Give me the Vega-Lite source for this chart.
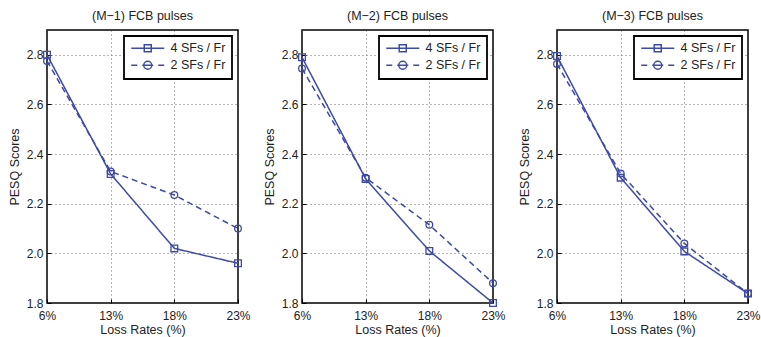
{
  "$schema": "https://vega.github.io/schema/vega-lite/v6.json",
  "padding": {"left": 7, "top": 8, "right": 0, "bottom": 4},
  "background": "white",
  "config": {
    "font": "Liberation Sans",
    "view": {"stroke": "black", "strokeWidth": 1.5},
    "title": {"fontSize": 12.5, "fontWeight": "normal", "color": "#222", "offset": 8},
    "axis": {
      "domain": false,
      "labelFontSize": 12,
      "labelColor": "#222",
      "titleFontSize": 12.5,
      "titleFontWeight": "normal",
      "titleColor": "#222",
      "tickColor": "black",
      "tickSize": -4,
      "grid": true,
      "gridDash": [1, 3],
      "gridColor": "#444",
      "gridWidth": 0.8,
      "gridOpacity": 1
    },
    "legend": {
      "orient": "top-right",
      "offset": 6,
      "padding": 6,
      "strokeColor": "black",
      "strokeWidth": 1.8,
      "fillColor": "white",
      "labelFontSize": 12.5,
      "labelColor": "#222",
      "labelOffset": 28,
      "symbolSize": 100,
      "symbolStrokeWidth": 1.5,
      "symbolStrokeColor": "#3d4aa8",
      "symbolFillColor": "transparent",
      "rowPadding": 3
    }
  },
  "datasets": {
    "d": [
      {"panel": "M-1", "rate": "6%", "series": "4 SFs / Fr", "pesq": 2.80},
      {"panel": "M-1", "rate": "13%", "series": "4 SFs / Fr", "pesq": 2.32},
      {"panel": "M-1", "rate": "18%", "series": "4 SFs / Fr", "pesq": 2.02},
      {"panel": "M-1", "rate": "23%", "series": "4 SFs / Fr", "pesq": 1.96},
      {"panel": "M-1", "rate": "6%", "series": "2 SFs / Fr", "pesq": 2.775},
      {"panel": "M-1", "rate": "13%", "series": "2 SFs / Fr", "pesq": 2.33},
      {"panel": "M-1", "rate": "18%", "series": "2 SFs / Fr", "pesq": 2.235},
      {"panel": "M-1", "rate": "23%", "series": "2 SFs / Fr", "pesq": 2.10},
      {"panel": "M-2", "rate": "6%", "series": "4 SFs / Fr", "pesq": 2.79},
      {"panel": "M-2", "rate": "13%", "series": "4 SFs / Fr", "pesq": 2.30},
      {"panel": "M-2", "rate": "18%", "series": "4 SFs / Fr", "pesq": 2.01},
      {"panel": "M-2", "rate": "23%", "series": "4 SFs / Fr", "pesq": 1.80},
      {"panel": "M-2", "rate": "6%", "series": "2 SFs / Fr", "pesq": 2.745},
      {"panel": "M-2", "rate": "13%", "series": "2 SFs / Fr", "pesq": 2.305},
      {"panel": "M-2", "rate": "18%", "series": "2 SFs / Fr", "pesq": 2.115},
      {"panel": "M-2", "rate": "23%", "series": "2 SFs / Fr", "pesq": 1.88},
      {"panel": "M-3", "rate": "6%", "series": "4 SFs / Fr", "pesq": 2.795},
      {"panel": "M-3", "rate": "13%", "series": "4 SFs / Fr", "pesq": 2.305},
      {"panel": "M-3", "rate": "18%", "series": "4 SFs / Fr", "pesq": 2.008},
      {"panel": "M-3", "rate": "23%", "series": "4 SFs / Fr", "pesq": 1.838},
      {"panel": "M-3", "rate": "6%", "series": "2 SFs / Fr", "pesq": 2.763},
      {"panel": "M-3", "rate": "13%", "series": "2 SFs / Fr", "pesq": 2.322},
      {"panel": "M-3", "rate": "18%", "series": "2 SFs / Fr", "pesq": 2.04},
      {"panel": "M-3", "rate": "23%", "series": "2 SFs / Fr", "pesq": 1.838}
    ]
  },
  "spacing": 11,
  "resolve": {"legend": {"shape": "independent"}},
  "hconcat": [
    {
      "width": 191, "height": 273,
      "title": "(M−1) FCB pulses",
      "data": {"name": "d"},
      "transform": [{"filter": "datum.panel == 'M-1'"}],
      "encoding": {
        "x": {"field": "rate", "type": "ordinal", "sort": ["6%", "13%", "18%", "23%"], "scale": {"type": "point", "padding": 0}, "axis": {"title": "Loss Rates (%)", "labelAngle": 0, "labelPadding": 11, "titlePadding": 2}},
        "y": {"field": "pesq", "type": "quantitative", "scale": {"domain": [1.8, 2.9], "nice": false, "zero": false}, "axis": {"title": "PESQ Scores", "values": [1.8, 2.0, 2.2, 2.4, 2.6, 2.8], "format": ".1f", "labelPadding": 8, "titlePadding": 5}}
      },
      "layer": [
        {
          "mark": {"type": "line", "color": "#3d4aa8", "strokeWidth": 1.5},
          "encoding": {
            "strokeDash": {"field": "series", "type": "nominal", "scale": {"domain": ["4 SFs / Fr", "2 SFs / Fr"], "range": [[1, 0], [6, 4]]}, "legend": null}
          }
        },
        {
          "mark": {"type": "point", "filled": false, "color": "#3d4aa8", "strokeWidth": 1.3, "size": 45, "opacity": 1},
          "encoding": {
            "shape": {"condition": {"test": "datum.series == '4 SFs / Fr'", "value": "square"}, "value": "circle"}
          }
        },
        {
          "transform": [{"filter": "false"}],
          "mark": {"type": "point", "filled": false, "color": "#3d4aa8", "strokeWidth": 1.5, "opacity": 1},
          "encoding": {
            "shape": {"field": "series", "type": "nominal", "scale": {"domain": ["4 SFs / Fr", "2 SFs / Fr"], "range": ["M-1,0H5.6M1.6,-0.7H3V0.7H1.6Z", "M-1,0H0.2M1.2,0H3.4M4.4,0H5.6M3.1,0A0.8,0.8,0,1,1,1.5,0A0.8,0.8,0,1,1,3.1,0"]}, "legend": {"title": null}}
          }
        }
      ]
    },
    {
      "width": 191, "height": 273,
      "title": "(M−2) FCB pulses",
      "data": {"name": "d"},
      "transform": [{"filter": "datum.panel == 'M-2'"}],
      "encoding": {
        "x": {"field": "rate", "type": "ordinal", "sort": ["6%", "13%", "18%", "23%"], "scale": {"type": "point", "padding": 0}, "axis": {"title": "Loss Rates (%)", "labelAngle": 0, "labelPadding": 11, "titlePadding": 2}},
        "y": {"field": "pesq", "type": "quantitative", "scale": {"domain": [1.8, 2.9], "nice": false, "zero": false}, "axis": {"title": "PESQ Scores", "values": [1.8, 2.0, 2.2, 2.4, 2.6, 2.8], "format": ".1f", "labelPadding": 8, "titlePadding": 5}}
      },
      "layer": [
        {
          "mark": {"type": "line", "color": "#3d4aa8", "strokeWidth": 1.5},
          "encoding": {
            "strokeDash": {"field": "series", "type": "nominal", "scale": {"domain": ["4 SFs / Fr", "2 SFs / Fr"], "range": [[1, 0], [6, 4]]}, "legend": null}
          }
        },
        {
          "mark": {"type": "point", "filled": false, "color": "#3d4aa8", "strokeWidth": 1.3, "size": 45, "opacity": 1},
          "encoding": {
            "shape": {"condition": {"test": "datum.series == '4 SFs / Fr'", "value": "square"}, "value": "circle"}
          }
        },
        {
          "transform": [{"filter": "false"}],
          "mark": {"type": "point", "filled": false, "color": "#3d4aa8", "strokeWidth": 1.5, "opacity": 1},
          "encoding": {
            "shape": {"field": "series", "type": "nominal", "scale": {"domain": ["4 SFs / Fr", "2 SFs / Fr"], "range": ["M-1,0H5.6M1.6,-0.7H3V0.7H1.6Z", "M-1,0H0.2M1.2,0H3.4M4.4,0H5.6M3.1,0A0.8,0.8,0,1,1,1.5,0A0.8,0.8,0,1,1,3.1,0"]}, "legend": {"title": null}}
          }
        }
      ]
    },
    {
      "width": 191, "height": 273,
      "title": "(M−3) FCB pulses",
      "data": {"name": "d"},
      "transform": [{"filter": "datum.panel == 'M-3'"}],
      "encoding": {
        "x": {"field": "rate", "type": "ordinal", "sort": ["6%", "13%", "18%", "23%"], "scale": {"type": "point", "padding": 0}, "axis": {"title": "Loss Rates (%)", "labelAngle": 0, "labelPadding": 11, "titlePadding": 2}},
        "y": {"field": "pesq", "type": "quantitative", "scale": {"domain": [1.8, 2.9], "nice": false, "zero": false}, "axis": {"title": "PESQ Scores", "values": [1.8, 2.0, 2.2, 2.4, 2.6, 2.8], "format": ".1f", "labelPadding": 8, "titlePadding": 5}}
      },
      "layer": [
        {
          "mark": {"type": "line", "color": "#3d4aa8", "strokeWidth": 1.5},
          "encoding": {
            "strokeDash": {"field": "series", "type": "nominal", "scale": {"domain": ["4 SFs / Fr", "2 SFs / Fr"], "range": [[1, 0], [6, 4]]}, "legend": null}
          }
        },
        {
          "mark": {"type": "point", "filled": false, "color": "#3d4aa8", "strokeWidth": 1.3, "size": 45, "opacity": 1},
          "encoding": {
            "shape": {"condition": {"test": "datum.series == '4 SFs / Fr'", "value": "square"}, "value": "circle"}
          }
        },
        {
          "transform": [{"filter": "false"}],
          "mark": {"type": "point", "filled": false, "color": "#3d4aa8", "strokeWidth": 1.5, "opacity": 1},
          "encoding": {
            "shape": {"field": "series", "type": "nominal", "scale": {"domain": ["4 SFs / Fr", "2 SFs / Fr"], "range": ["M-1,0H5.6M1.6,-0.7H3V0.7H1.6Z", "M-1,0H0.2M1.2,0H3.4M4.4,0H5.6M3.1,0A0.8,0.8,0,1,1,1.5,0A0.8,0.8,0,1,1,3.1,0"]}, "legend": {"title": null}}
          }
        }
      ]
    }
  ]
}
